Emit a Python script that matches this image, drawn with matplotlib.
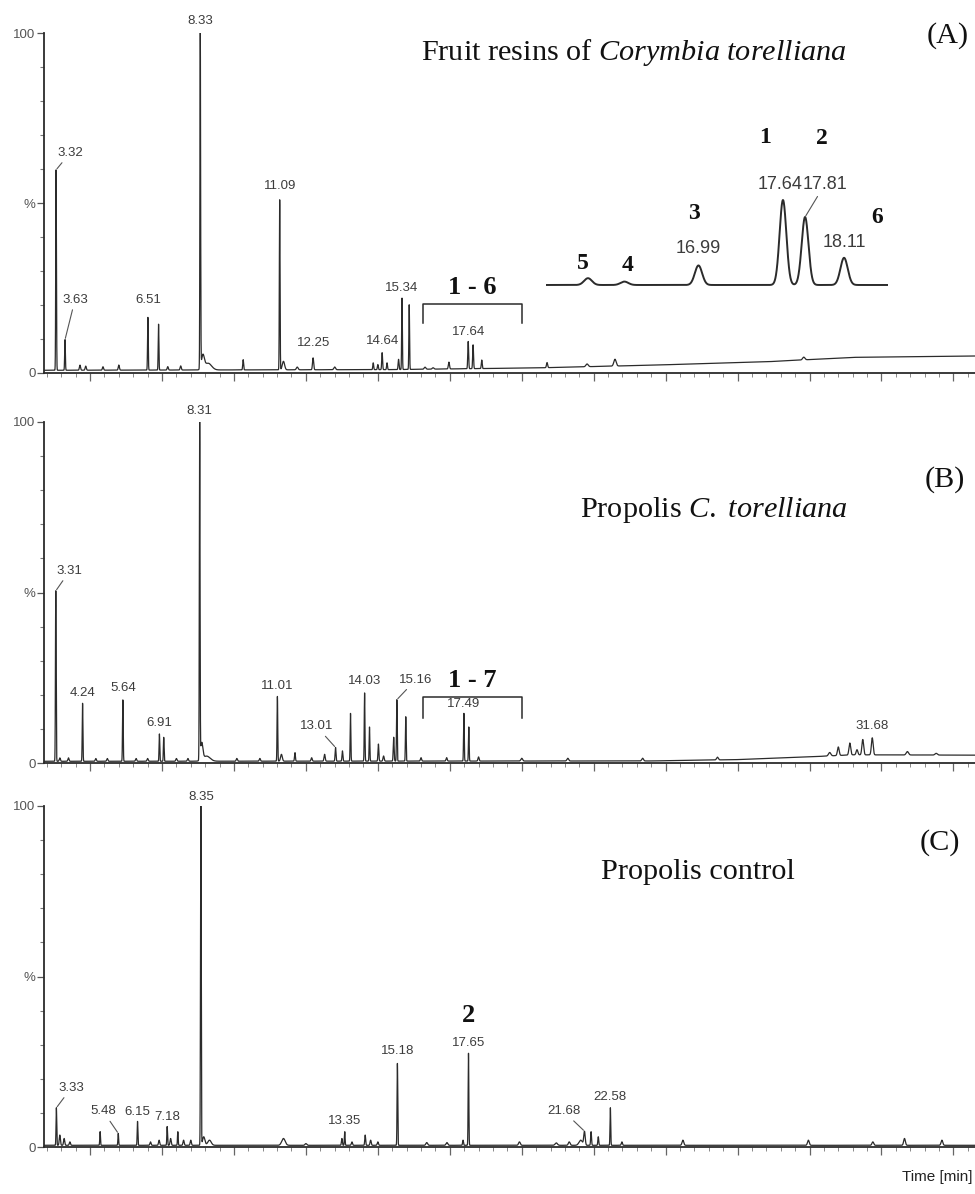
import numpy as np
import matplotlib
matplotlib.use("Agg")
import matplotlib.pyplot as plt
from matplotlib.ticker import MultipleLocator

plt.rcParams['mathtext.fontset'] = 'custom'
plt.rcParams['mathtext.rm'] = 'Liberation Serif'
plt.rcParams['mathtext.it'] = 'Liberation Serif:italic'
plt.rcParams['mathtext.bf'] = 'Liberation Serif:bold'

W, H = 975, 1194
T_MIN, T_MAX = 2.9, 35.25

# ---------------- data: panel A (fruit resins) ----------------
A_rt = [3.32, 3.63, 4.15, 4.35, 4.95, 5.50, 6.51, 6.88, 7.20, 7.65, 8.33, 8.42, 8.60,
        9.82, 11.09, 11.22, 11.70, 12.25, 13.00, 14.34, 14.50, 14.65, 14.82, 15.22,
        15.34, 15.59, 16.14, 16.42, 16.97, 17.64, 17.81, 18.11, 20.38, 21.77, 22.74, 29.30]
A_h = [59, 9, 1.5, 1.2, 1.0, 1.5, 15.5, 13.5, 1.0, 1.2, 99, 4, 2,
       3, 50, 2.5, 0.8, 3.5, 0.8, 2, 1.5, 5, 2, 3,
       21, 19, 0.6, 0.4, 2, 8, 7, 2.5, 1.5, 0.8, 2, 0.8]
A_w = [.012, .012, .02, .02, .02, .02, .012, .012, .02, .02, .012, .05, .12,
       .015, .012, .04, .03, .02, .03, .015, .015, .015, .015, .015,
       .012, .012, .03, .03, .02, .015, .015, .015, .02, .04, .04, .04]
A_base_t = [2.9, 15.0, 20.0, 24.0, 28.0, 31.0, 35.25]
A_base_v = [0.8, 1.0, 1.5, 2.3, 3.3, 4.6, 5.0]
A_labels = [("3.32", 3.32), ("3.63", 3.63), ("6.51", 6.51), ("8.33", 8.33), ("11.09", 11.09),
            ("12.25", 12.25), ("14.64", 14.65), ("15.34", 15.34), ("17.64", 17.64)]

# inset of panel A (zoom on 15.8-18.5 min)
I_rt = [16.14, 16.42, 16.99, 17.64, 17.81, 18.11]
I_h = [8, 4, 23, 100, 80, 32]
I_w = [.03, .03, .028, .026, .026, .028]
I_labels = [("16.99", 16.99), ("17.64", 17.64), ("17.81", 17.81), ("18.11", 18.11)]
I_compounds = [("5", 16.14), ("4", 16.42), ("3", 16.99), ("1", 17.64), ("2", 17.81), ("6", 18.11)]

# ---------------- data: panel B (propolis C. torelliana) ----------------
B_rt = [3.31, 3.45, 3.75, 4.24, 4.70, 5.10, 5.64, 6.10, 6.50, 6.91, 7.06, 7.50, 7.90,
        8.31, 8.38, 8.55, 9.60, 10.40, 11.01, 11.15, 11.62, 12.20, 12.65, 13.03, 13.27,
        13.55, 14.04, 14.21, 14.52, 14.70, 15.05, 15.16, 15.47, 16.00, 16.89, 17.49, 17.66,
        18.00, 19.50, 21.10, 23.70, 26.30, 30.20, 30.50, 30.90, 31.15, 31.35, 31.68, 32.90, 33.90]
B_h = [50, 1, 1, 17, 0.8, 0.8, 18, 0.8, 0.8, 8, 7, 0.8, 0.8,
       99, 5, 1.5, 0.8, 0.8, 19, 2, 2.5, 1, 2, 4, 3,
       14, 20, 10, 5, 1.5, 7, 18, 13, 1, 1, 14, 10,
       1.2, 0.8, 0.8, 0.8, 0.8, 1, 2.5, 3.5, 1.5, 4.5, 5, 1, 0.5]
B_w = [.012, .02, .02, .012, .02, .02, .012, .02, .02, .012, .012, .02, .02,
       .012, .04, .12, .02, .02, .012, .03, .015, .02, .02, .015, .015,
       .012, .012, .012, .015, .02, .015, .012, .012, .02, .02, .012, .012,
       .02, .03, .03, .03, .03, .04, .03, .03, .03, .03, .03, .04, .04]
B_base_t = [2.9, 24.0, 27.0, 29.5, 31.0, 35.25]
B_base_v = [0.5, 0.6, 1.0, 1.8, 2.4, 2.3]
B_labels = [("3.31", 3.31), ("4.24", 4.24), ("5.64", 5.64), ("6.91", 6.91), ("8.31", 8.31),
            ("11.01", 11.01), ("13.01", 13.03), ("14.03", 14.04), ("15.16", 15.16),
            ("17.49", 17.49), ("31.68", 31.68)]

# ---------------- data: panel C (propolis control) ----------------
C_rt = [3.33, 3.45, 3.60, 3.80, 4.85, 5.48, 6.15, 6.60, 6.90, 7.18, 7.30, 7.55, 7.75, 8.00,
        8.35, 8.45, 8.65, 11.22, 12.00, 13.25, 13.35, 13.60, 14.06, 14.25, 14.50, 15.18,
        16.20, 16.90, 17.46, 17.65, 19.42, 20.70, 21.15, 21.55, 21.68, 21.91, 22.16, 22.58,
        22.98, 25.10, 29.46, 31.70, 32.80, 34.10]
C_h = [11, 3, 2, 1, 4, 3.5, 7, 1, 1.5, 5.5, 2, 4, 1.5, 1.5,
       99.5, 2.5, 1.5, 2, 0.5, 2, 4, 1, 3, 1.5, 1, 24,
       0.8, 0.8, 1.5, 27, 1, 0.7, 1, 1.5, 4, 4, 2.5, 11,
       1, 1.5, 1.5, 1, 2, 1.5]
C_w = [.012, .02, .02, .02, .012, .012, .012, .02, .02, .012, .02, .012, .02, .02,
       .012, .04, .06, .06, .03, .015, .012, .02, .015, .02, .02, .012,
       .03, .03, .015, .012, .03, .04, .03, .06, .025, .015, .015, .012,
       .02, .03, .03, .03, .03, .03]
C_base_t = [2.9, 35.25]
C_base_v = [0.5, 0.5]
C_labels = [("3.33", 3.33), ("5.48", 5.48), ("6.15", 6.15), ("7.18", 7.18), ("8.35", 8.35),
            ("13.35", 13.35), ("15.18", 15.18), ("17.65", 17.65), ("21.68", 21.68), ("22.58", 22.58)]

TITLES = ["Fruit resins of $\\mathit{Corymbia\\ torelliana}$",
          "Propolis $\\mathit{C.\\ torelliana}$",
          "Propolis control"]
PANEL_TAGS = ["(A)", "(B)", "(C)"]

# ---------------- drawing ----------------
fig = plt.figure(figsize=(W / 100, H / 100), dpi=100)
LINE = '#2b2b2b'
LAB = '#3c3c3c'
SANS = ['Liberation Sans', 'DejaVu Sans']
SERIF = ['Liberation Serif', 'DejaVu Serif']


def add_axes_px(x0, x1, ytop, ybot):
    return fig.add_axes([x0 / W, 1 - ybot / H, (x1 - x0) / W, (ybot - ytop) / H])


def ftext(x, y, s, **kw):
    fig.text(x / W, 1 - y / H, s, **kw)


def trace(tt, rt, h, w, bt, bv):
    y = np.interp(tt, bt, bv)
    for r, hh, ww in zip(rt, h, w):
        y = y + hh * np.exp(-0.5 * ((tt - r) / ww) ** 2)
    return y


t = np.linspace(T_MIN, T_MAX, 24000)


def setup(ax):
    ax.set_xlim(T_MIN, T_MAX)
    ax.set_ylim(0, 100)
    ax.patch.set_alpha(0)
    for s in ('top', 'right'):
        ax.spines[s].set_visible(False)
    for s in ('left', 'bottom'):
        ax.spines[s].set_linewidth(1.3)
        ax.spines[s].set_color(LINE)
    ax.set_yticks([0, 50, 100])
    ax.set_yticklabels(['0', '%', '100'], fontfamily=SANS)
    ax.yaxis.set_minor_locator(MultipleLocator(10))
    ax.set_xticks(np.arange(4.5, 35.0, 2.5))
    ax.xaxis.set_minor_locator(MultipleLocator(0.5))
    ax.tick_params(axis='y', which='major', length=5, width=0.9, color='#555',
                   labelsize=9.5, labelcolor='#555', pad=1)
    ax.tick_params(axis='y', which='minor', length=3, width=0.8, color='#777')
    ax.tick_params(axis='x', which='major', length=6, width=0.9, color='#666',
                   labelbottom=False)
    ax.tick_params(axis='x', which='minor', length=3, width=0.7, color='#888')


def peak_top(tt, y, r):
    i = np.argmin(np.abs(tt - r))
    j0, j1 = max(i - 8, 0), min(i + 8, len(tt))
    return min(y[j0:j1].max(), 100)


def label_peaks(ax, tt, y, labels, offsets, fs=9.5, fam=SANS):
    # offsets are (dx, dy) in pixels, dy measured downward (negative = above)
    for (txt, r), (dx, dy, lead) in zip(labels, offsets):
        top = peak_top(tt, y, r)
        kw = {}
        if lead:
            kw['arrowprops'] = dict(arrowstyle='-', color='#555', lw=0.8,
                                    shrinkA=1, shrinkB=1)
        ax.annotate(txt, xy=(r, top), xytext=(dx * 0.72, -dy * 0.72),
                    textcoords='offset points', ha='center', va='center',
                    fontsize=fs, color=LAB, fontfamily=fam, annotation_clip=False, **kw)


panels = [
    (33, 373, A_rt, A_h, A_w, A_base_t, A_base_v, A_labels,
     [(14, -17, True), (10, -40, True), (0, -17, False), (0, -12, False), (0, -14, False),
      (0, -15, False), (0, -12, False), (0, -10, False), (0, -10, False)]),
    (422, 763, B_rt, B_h, B_w, B_base_t, B_base_v, B_labels,
     [(14, -20, True), (0, -10, False), (0, -12, False), (0, -11, False), (0, -11, False),
      (0, -10, False), (-19, -21, True), (0, -12, False), (19, -20, True),
      (0, -9, False), (0, -12, False)]),
    (806, 1147, C_rt, C_h, C_w, C_base_t, C_base_v, C_labels,
     [(15, -20, True), (-15, -22, True), (0, -9, False), (0, -10, False), (0, -9, False),
      (0, -11, False), (0, -12, False), (0, -10, False), (-21, -20, True), (0, -11, False)]),
]

axes = []
for (ytop, ybot, rt, h, w, bt, bv, labels, offs) in panels:
    ax = add_axes_px(44, 975, ytop, ybot)
    setup(ax)
    y = trace(t, rt, h, w, bt, bv)
    ax.plot(t, y, color=LINE, lw=0.9)
    label_peaks(ax, t, y, labels, offs)
    axes.append((ax, t, y))

axA, axB, axC = axes[0][0], axes[1][0], axes[2][0]


def bracket(ax, t0, t1, ytop, yleg, text):
    ax.plot([t0, t0, t1, t1], [yleg, ytop, ytop, yleg], color=LINE, lw=1.1)
    ax.annotate(text, xy=((t0 + t1) / 2, ytop), xytext=(0, 12), textcoords='offset points',
                ha='center', va='center', fontsize=19, fontweight='bold',
                fontfamily=SERIF, color='#111')


bracket(axA, 16.07, 19.51, 20.3, 14.7, "1 - 6")
bracket(axB, 16.07, 19.51, 19.4, 13.2, "1 - 7")

# compound 2 marker in panel C
ax, tt, yy = axes[2]
axC.annotate("2", xy=(17.65, peak_top(tt, yy, 17.65)), xytext=(0, 38 * 0.72),
             textcoords='offset points', ha='center', va='center', fontsize=19,
             fontweight='bold', fontfamily=SERIF, color='#111')

# inset of panel A
axI = add_axes_px(546, 888, 190, 290)
axI.axis('off')
axI.set_xlim(15.817, 18.448)
axI.set_ylim(-5.9, 111.8)
ti = np.linspace(15.817, 18.448, 4000)
yi = trace(ti, I_rt, I_h, I_w, [15.817, 18.448], [0, 0])
axI.plot(ti, yi, color=LINE, lw=1.4)


def peak_top_i(r):
    i = np.argmin(np.abs(ti - r))
    return yi[max(i - 8, 0):i + 8].max()


for (txt, r), (dx, dy, lead) in zip(I_labels, [(0, -17, False), (-3, -16, False),
                                              (20, -33, True), (0, -15, False)]):
    kw = {}
    if lead:
        kw['arrowprops'] = dict(arrowstyle='-', color='#555', lw=0.8, shrinkA=1, shrinkB=1)
    axI.annotate(txt, xy=(r, peak_top_i(r)), xytext=(dx * 0.72, -dy * 0.72),
                 textcoords='offset points', ha='center', va='center', fontsize=13,
                 color=LAB, fontfamily=SANS, **kw)

for (txt, r), (dx, dy) in zip(I_compounds,
                              [(-5, -15), (3, -16), (-5, -52), (-18, -63), (17, -79), (33, -40)]):
    axI.annotate(txt, xy=(r, peak_top_i(r)), xytext=(dx * 0.72, -dy * 0.72),
                 textcoords='offset points', ha='center', va='center', fontsize=17,
                 fontweight='bold', fontfamily=SERIF, color='#111')

# titles and panel tags
TS = 21.8
ftext(634, 52, TITLES[0], ha='center', va='center', fontsize=TS, fontfamily=SERIF, color='#111')
ftext(714, 510, TITLES[1], ha='center', va='center', fontsize=TS, fontfamily=SERIF, color='#111')
ftext(698, 872, TITLES[2], ha='center', va='center', fontsize=TS, fontfamily=SERIF, color='#111')
ftext(948, 36, PANEL_TAGS[0], ha='center', va='center', fontsize=TS, fontfamily=SERIF, color='#111')
ftext(945, 480, PANEL_TAGS[1], ha='center', va='center', fontsize=TS, fontfamily=SERIF, color='#111')
ftext(940, 843, PANEL_TAGS[2], ha='center', va='center', fontsize=TS, fontfamily=SERIF, color='#111')
ftext(972, 1177, "Time [min]", ha='right', va='center', fontsize=11, fontfamily=SANS,
      color='#222')

fig.savefig("out.png", dpi=100)
